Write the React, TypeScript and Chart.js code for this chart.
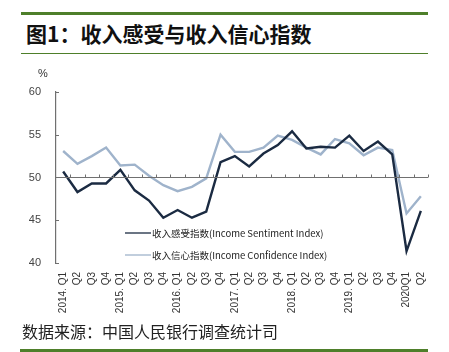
import React, { useEffect, useRef } from "react";
import { Chart, registerables } from "chart.js";

Chart.register(...registerables);

const categories = [
  "2014. Q1", "Q2", "Q3", "Q4",
  "2015. Q1", "Q2", "Q3", "Q4",
  "2016. Q1", "Q2", "Q3", "Q4",
  "2017. Q1", "Q2", "Q3", "Q4",
  "2018. Q1", "Q2", "Q3", "Q4",
  "2019. Q1", "Q2", "Q3", "Q4",
  "2020Q1", "Q2",
];

const sentimentIndex = [
  50.7, 48.3, 49.3, 49.3, 50.9, 48.5, 47.3, 45.3, 46.2, 45.3, 46.0, 51.8, 52.5,
  51.3, 52.8, 53.8, 55.4, 53.4, 53.6, 53.5, 54.9, 53.1, 54.2, 52.7, 41.4, 46.1,
];

const confidenceIndex = [
  53.1, 51.6, 52.5, 53.5, 51.4, 51.5, 50.2, 49.1, 48.4, 48.9, 49.9, 55.0, 53.0,
  53.0, 53.5, 54.9, 54.4, 53.5, 52.7, 54.5, 54.0, 52.6, 53.5, 53.2, 45.8, 47.8,
];

const seriesNames = [
  "收入感受指数(Income Sentiment Index)",
  "收入信心指数(Income Confidence Index)",
];

const yTicks = [40, 45, 50, 55, 60];

const titleText = "图1：收入感受与收入信心指数";
const sourceText = "数据来源：中国人民银行调查统计司";

const DARK = "#1b2b42";
const LIGHT = "#9fb3cb";
const GREEN = "#4e7f2a";
const AXIS = "#707070";

export default function App() {
  const canvasRef = useRef<HTMLCanvasElement | null>(null);

  useEffect(() => {
    const canvas = canvasRef.current;
    if (!canvas) return;

    const overlay = {
      id: "overlay",
      afterDraw(chart: any) {
        const { ctx, chartArea, scales } = chart;
        const ys = scales.y;
        const y50 = ys.getPixelForValue(50);
        const left = chartArea.left;
        const right = chartArea.right;
        ctx.save();
        // horizontal axis at 50
        ctx.strokeStyle = AXIS;
        ctx.lineWidth = 1.2;
        ctx.beginPath();
        ctx.moveTo(left, y50);
        ctx.lineTo(right, y50);
        ctx.stroke();
        // tick marks on x axis (category boundaries)
        const n = categories.length;
        const step = (right - left) / n;
        ctx.lineWidth = 1;
        ctx.beginPath();
        for (let i = 1; i <= n; i++) {
          const x = Math.round(left + i * step) + 0.5;
          ctx.moveTo(x, y50 - 3);
          ctx.lineTo(x, y50);
        }
        ctx.stroke();
        // small inner ticks on y axis
        ctx.beginPath();
        yTicks.forEach((v) => {
          if (v === 50) return;
          const y = Math.round(ys.getPixelForValue(v)) + 0.5;
          ctx.moveTo(left, y);
          ctx.lineTo(left + 3, y);
        });
        ctx.stroke();
        // percent sign
        ctx.fillStyle = "#333";
        ctx.font = "11px 'Liberation Sans', Arial, sans-serif";
        ctx.textAlign = "center";
        ctx.textBaseline = "middle";
        ctx.fillText("%", 43, 74);
        // legend
        const rows = [
          { y: 233, color: DARK, text: seriesNames[0] },
          { y: 255, color: LIGHT, text: seriesNames[1] },
        ];
        ctx.textAlign = "left";
        ctx.font = "9.5px 'Noto Sans CJK SC', 'Liberation Sans', sans-serif";
        rows.forEach((r) => {
          ctx.strokeStyle = r.color;
          ctx.lineWidth = 1.3;
          ctx.beginPath();
          ctx.moveTo(125, r.y);
          ctx.lineTo(151, r.y);
          ctx.stroke();
          ctx.fillStyle = "#222";
          ctx.fillText(r.text, 152, r.y);
        });
        ctx.restore();
      },
    };

    const chart = new Chart(canvas, {
      type: "line",
      data: {
        labels: categories,
        datasets: [
          {
            label: seriesNames[0],
            data: sentimentIndex,
            borderColor: DARK,
            backgroundColor: DARK,
            borderWidth: 2.4,
            pointRadius: 0,
            tension: 0,
          },
          {
            label: seriesNames[1],
            data: confidenceIndex,
            borderColor: LIGHT,
            backgroundColor: LIGHT,
            borderWidth: 2.4,
            pointRadius: 0,
            tension: 0,
          },
        ],
      },
      options: {
        responsive: false,
        animation: false,
        layout: { padding: { left: 0, top: 92, right: 21, bottom: 0 } },
        plugins: {
          legend: { display: false },
          tooltip: { enabled: false },
          title: { display: false },
        },
        scales: {
          x: {
            type: "category",
            offset: true,
            afterFit: (s: any) => {
              s.height = 89;
            },
            grid: { display: false, drawTicks: false },
            border: { display: false },
            ticks: {
              autoSkip: false,
              minRotation: 90,
              maxRotation: 90,
              padding: 9,
              color: "#333",
              font: { family: "'Liberation Sans', Arial, sans-serif", size: 10 },
            },
          },
          y: {
            min: 40,
            max: 60,
            afterFit: (s: any) => {
              s.width = 56;
            },
            afterBuildTicks: (s: any) => {
              s.ticks = yTicks.map((v) => ({ value: v }));
            },
            grid: { display: true, drawOnChartArea: false, drawTicks: false },
            border: { display: true, color: AXIS, width: 1.2 },
            ticks: {
              padding: 15,
              color: "#444",
              font: { family: "'Liberation Sans', Arial, sans-serif", size: 11 },
            },
          },
        },
      },
      plugins: [overlay],
    });

    return () => {
      chart.destroy();
    };
  }, []);

  return (
    <div
      style={{
        position: "absolute",
        left: 0,
        top: 0,
        width: 449,
        height: 352,
        background: "#fff",
        overflow: "hidden",
      }}
    >
      <div style={{ position: "absolute", left: 21, top: 12, width: 407, height: 3, background: GREEN }} />
      <div
        style={{
          position: "absolute",
          left: 26,
          top: 23,
          fontFamily: "'Noto Sans CJK SC', sans-serif",
          fontWeight: 700,
          fontSize: 21,
          lineHeight: "21px",
          color: "#111",
          whiteSpace: "nowrap",
        }}
      >
        {titleText}
      </div>
      <div style={{ position: "absolute", left: 21, top: 53, width: 407, height: 1, background: GREEN }} />
      <canvas
        ref={canvasRef}
        width={449}
        height={352}
        style={{ position: "absolute", left: 0, top: 0, width: 449, height: 352 }}
      />
      <div
        style={{
          position: "absolute",
          left: 22,
          top: 323,
          fontFamily: "'Noto Sans CJK SC', sans-serif",
          fontSize: 16,
          lineHeight: "16px",
          color: "#222",
          whiteSpace: "nowrap",
        }}
      >
        {sourceText}
      </div>
      <div style={{ position: "absolute", left: 20, top: 349, width: 408, height: 3, background: GREEN }} />
    </div>
  );
}
